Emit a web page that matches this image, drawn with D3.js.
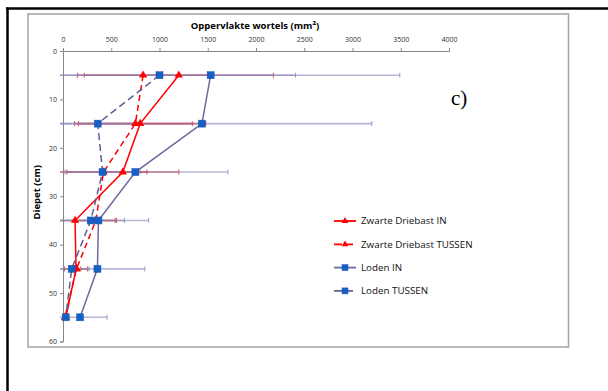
<!DOCTYPE html>
<html>
<head>
<meta charset="utf-8">
<script src="https://cdn.jsdelivr.net/npm/d3@7"></script>
<style>
  body { margin: 0; background: #fff; }
  svg { display: block; font-family: "Open Sans", "Noto Sans", sans-serif; }
</style>
</head>
<body>
<div id="viz"></div>
<script>
// depth classes (cm) and root surface (mm²) per treatment
const depths = [5, 15, 25, 35, 45, 55];
const zwarteIn = [1200, 800, 620, 125, 135, 30];
const zwarteInErr = [980, 680, 580, 430, 120, 20];
const zwarteTussen = [830, 750, 420, 340, 140, 20];
const zwarteTussenErr = [680, 590, 450, 200, 45, 15];
const lodenIn = [1530, 1440, 750, 367, 357, 177];
const lodenInErr = [1960, 1760, 960, 520, 490, 280];
const lodenTussen = [1000, 360, 410, 288, 90, 28];
const lodenTussenErr = [1410, 420, 390, 350, 180, 20];

const xTicks = [0, 500, 1000, 1500, 2000, 2500, 3000, 3500, 4000];
const yTicks = [0, 10, 20, 30, 40, 50, 60];

const series = [
    { name: 'Zwarte Driebast IN', values: zwarteIn, err: zwarteInErr, color: '#ff0000', errColor: '#e01818', dash: null, marker: 'tri' },
    { name: 'Zwarte Driebast TUSSEN', values: zwarteTussen, err: zwarteTussenErr, color: '#ff0000', errColor: '#e01818', dash: '6,4', marker: 'tri' },
    { name: 'Loden IN', values: lodenIn, err: lodenInErr, color: '#6a6aa2', errColor: '#8585bb', dash: null, marker: 'sq' },
    { name: 'Loden TUSSEN', values: lodenTussen, err: lodenTussenErr, color: '#5e5e98', errColor: '#8585bb', dash: '7,4', marker: 'sq' }
];

const W = 608, H = 391;
const svg = d3.select('#viz').append('svg').attr('width', W).attr('height', H);
svg.append('rect').attr('width', W).attr('height', H).attr('fill', '#fff');

// black page frame (top + left only)
svg.append('line').attr('x1', 6).attr('x2', W).attr('y1', 8.5).attr('y2', 8.5)
    .attr('stroke', '#000').attr('stroke-width', 2.5);
svg.append('line').attr('x1', 7.5).attr('x2', 7.5).attr('y1', 7.5).attr('y2', H)
    .attr('stroke', '#000').attr('stroke-width', 2.5);

// chart area border
svg.append('rect').attr('x', 28).attr('y', 14).attr('width', 540.5).attr('height', 333)
    .attr('fill', 'none').attr('stroke', '#a3a3a3').attr('stroke-width', 1.5);

const x = d3.scaleLinear().domain([0, 4000]).range([63, 449]);
const y = d3.scaleLinear().domain([0, 60]).range([51, 341.5]);

// top axis
const xAxis = svg.append('g').attr('transform', `translate(0,${y(0)})`)
    .call(d3.axisTop(x).tickValues(xTicks).tickFormat(d3.format('d')).tickSize(3).tickPadding(6));
// left axis
const yAxis = svg.append('g').attr('transform', `translate(${x(0)},0)`)
    .call(d3.axisLeft(y).tickValues(yTicks).tickFormat(d3.format('d')).tickSize(3).tickPadding(3));
[xAxis, yAxis].forEach(g => {
    g.select('.domain').attr('stroke', '#868686').attr('stroke-width', 1);
    g.selectAll('.tick line').attr('stroke', '#868686');
    g.selectAll('.tick text').attr('fill', '#303030').style('font-size', '7px')
        .style('font-family', '"Open Sans", sans-serif');
});

// titles
svg.append('text').attr('x', 255).attr('y', 28.5).attr('text-anchor', 'middle')
    .style('font-size', '9.5px').style('font-weight', 'bold').text('Oppervlakte wortels (mm²)');
svg.append('text').attr('transform', `translate(40,${(y(0) + y(60)) / 2 - 4}) rotate(-90)`)
    .attr('text-anchor', 'middle').style('font-size', '9.5px').style('font-weight', 'bold')
    .text('Diepet (cm)');
svg.append('text').attr('x', 451).attr('y', 105)
    .style('font-family', '"Liberation Serif", "Times New Roman", serif').style('font-size', '21px')
    .text('c)');

// error bars (symmetric, cut at the axis)
const errG = svg.append('g');
series.forEach(s => {
    depths.forEach((d, i) => {
        const lo = s.values[i] - s.err[i];
        const hi = s.values[i] + s.err[i];
        const yy = y(d);
        const x1 = lo < 0 ? x(0) - 3 : x(lo);
        errG.append('line').attr('x1', x1).attr('x2', x(hi)).attr('y1', yy).attr('y2', yy)
            .attr('stroke', s.errColor).attr('stroke-width', 1.6).attr('stroke-opacity', 0.6);
        const caps = lo < 0 ? [hi] : [lo, hi];
        caps.forEach(c => {
            errG.append('line').attr('x1', x(c)).attr('x2', x(c)).attr('y1', yy - 2.5).attr('y2', yy + 2.5)
                .attr('stroke', s.errColor).attr('stroke-width', 1).attr('stroke-opacity', 0.8);
        });
    });
});

// lines
const line = d3.line().x(d => x(d[0])).y(d => y(d[1]));
series.forEach(s => {
    svg.append('path').datum(depths.map((d, i) => [s.values[i], d]))
        .attr('d', line).attr('fill', 'none').attr('stroke', s.color)
        .attr('stroke-width', 1.5).attr('stroke-dasharray', s.dash);
});

// markers
function drawMarker(g, type, cx, cy, size) {
    if (type === 'tri') {
        g.append('path').attr('d', d3.symbol().type(d3.symbolTriangle).size(size)())
            .attr('transform', `translate(${cx},${cy})`).attr('fill', '#ff0000');
    } else {
        const h = Math.sqrt(size) / 2;
        g.append('rect').attr('x', cx - h).attr('y', cy - h).attr('width', 2 * h).attr('height', 2 * h)
            .attr('fill', '#1560c6').attr('stroke', '#1f55aa').attr('stroke-width', 0.5);
    }
}
series.forEach(s => {
    const g = svg.append('g');
    depths.forEach((d, i) => drawMarker(g, s.marker, x(s.values[i]), y(d), s.marker === 'tri' ? 30 : 49));
});

// legend
const legend = svg.append('g');
series.forEach((s, i) => {
    const ly = 221 + i * 23.3;
    legend.append('line').attr('x1', 334).attr('x2', 356).attr('y1', ly).attr('y2', ly)
        .attr('stroke', s.color).attr('stroke-width', 1.8).attr('stroke-dasharray', s.dash ? '8,3' : null);
    drawMarker(legend, s.marker, 345, ly, s.marker === 'tri' ? 20 : 36);
    legend.append('text').attr('x', 361).attr('y', ly).attr('dy', '0.35em')
        .style('font-size', '9.8px').attr('fill', '#111').text(s.name);
});
</script>
</body>
</html>
